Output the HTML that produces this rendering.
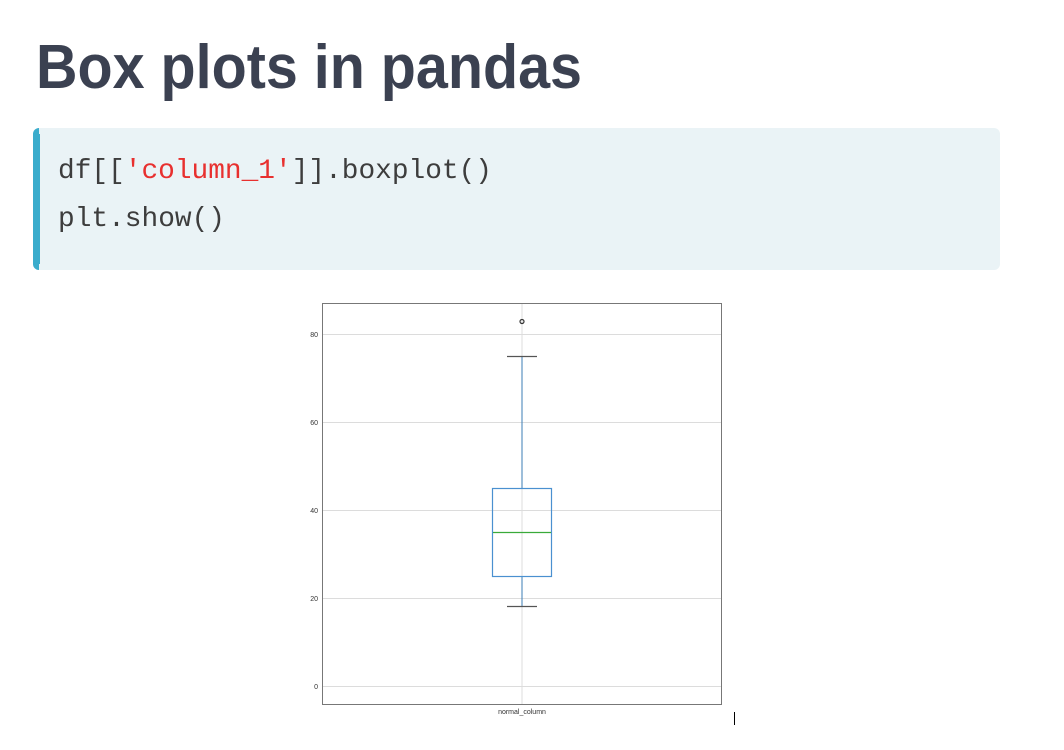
<!DOCTYPE html>
<html><head><style>
html,body{margin:0;padding:0;background:#fff;}
</style></head><body>
<svg width="1064" height="750" xmlns="http://www.w3.org/2000/svg" style="display:block">
<text x="36" y="88" font-family="Liberation Sans, sans-serif" font-weight="bold" font-size="62" fill="#3b4151" textLength="546" lengthAdjust="spacingAndGlyphs">Box plots in pandas</text>
<rect x="33" y="128" width="967" height="142" rx="6" fill="#eaf3f6"/>
<path d="M39 128 h-0 a6 6 0 0 0 -6 6 v130 a6 6 0 0 0 6 6 z" fill="#3aaccc"/>
<rect x="33" y="134" width="7" height="130" fill="#3aaccc"/>
<text x="58" y="178" font-family="Liberation Mono, monospace" font-size="28" fill="#3d3d3d" textLength="434" lengthAdjust="spacingAndGlyphs">df[[<tspan fill="#e8302f">'column_1'</tspan>]].boxplot()</text>
<text x="58" y="226" font-family="Liberation Mono, monospace" font-size="28" fill="#3d3d3d" textLength="167" lengthAdjust="spacingAndGlyphs">plt.show()</text>
<g stroke="#dcdcdc" stroke-width="1">
<line x1="322" y1="334.5" x2="721" y2="334.5"/>
<line x1="322" y1="422.5" x2="721" y2="422.5"/>
<line x1="322" y1="510.5" x2="721" y2="510.5"/>
<line x1="322" y1="598.5" x2="721" y2="598.5"/>
<line x1="322" y1="686.5" x2="721" y2="686.5"/>
<line x1="522" y1="303" x2="522" y2="704"/>
</g>
<rect x="322.5" y="303.5" width="399" height="401" fill="none" stroke="#777" stroke-width="1"/>
<g font-family="Liberation Sans, sans-serif" font-size="7" fill="#333" text-anchor="end">
<text x="318" y="337">80</text><text x="318" y="425">60</text><text x="318" y="513">40</text><text x="318" y="601">20</text><text x="318" y="689">0</text>
</g>
<text x="522" y="714" font-family="Liberation Sans, sans-serif" font-size="7" fill="#333" text-anchor="middle">normal_column</text>
<line x1="522" y1="356" x2="522" y2="488" stroke="#3b7db5" stroke-width="1"/>
<line x1="522" y1="576" x2="522" y2="607" stroke="#3b7db5" stroke-width="1"/>
<line x1="507" y1="356.5" x2="537" y2="356.5" stroke="#555" stroke-width="1.3"/>
<line x1="507" y1="606.5" x2="537" y2="606.5" stroke="#555" stroke-width="1.3"/>
<rect x="492.5" y="488.5" width="59" height="88" fill="none" stroke="#4a90d0" stroke-width="1.2"/>
<line x1="493" y1="532.5" x2="551" y2="532.5" stroke="#3aaa3a" stroke-width="1.2"/>
<circle cx="522" cy="321.5" r="2" fill="none" stroke="#333" stroke-width="1.2"/>
<line x1="734.5" y1="712" x2="734.5" y2="725" stroke="#000" stroke-width="1"/>
</svg>
</body></html>
